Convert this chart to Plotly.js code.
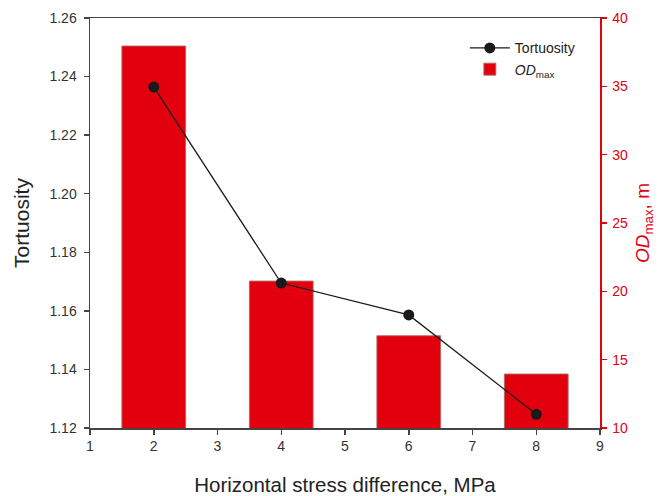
<!DOCTYPE html>
<html>
<head>
<meta charset="utf-8">
<script src="https://cdn.plot.ly/plotly-3.0.1.min.js"></script>
<style>html,body{margin:0;padding:0;background:#fff;}#chart{width:667px;height:496px;}</style>
</head>
<body>
<div id="chart"></div>
<script>
// Data
const stressDiff = [2, 4, 6, 8];
const tortuosity = [1.2364, 1.1695, 1.1586, 1.1247];
const odMax = [37.95, 20.75, 16.75, 13.95];
const leftTicks = [1.12, 1.14, 1.16, 1.18, 1.20, 1.22, 1.24, 1.26];
const rightTicks = [10, 15, 20, 25, 30, 35, 40];
const xTicks = [1, 2, 3, 4, 5, 6, 7, 8, 9];

const red = '#e2000e';
const font = 'Liberation Sans, Arial, sans-serif';

const traces = [
  {
    type: 'bar', x: stressDiff, y: odMax, yaxis: 'y', width: 1.0,
    name: '<i>OD</i><sub>max</sub>', legendrank: 2,
    marker: {color: red, line: {color: 'rgba(170,110,100,0.9)', width: 1}}
  },
  {
    type: 'scatter', mode: 'lines+markers', x: stressDiff, y: tortuosity, yaxis: 'y2',
    name: 'Tortuosity', legendrank: 1,
    line: {color: '#1a1a1a', width: 1.3},
    marker: {color: '#1a1a1a', size: 11}
  }
];

const layout = {
  width: 667, height: 496,
  margin: {l: 90, r: 67, t: 18, b: 68},
  paper_bgcolor: '#fff', plot_bgcolor: '#fff',
  font: {family: font, size: 14, color: '#333'},
  showlegend: true,
  legend: {x: 0.735, y: 0.965, xanchor: 'left', yanchor: 'top', bgcolor: 'rgba(0,0,0,0)',
           font: {family: font, size: 14, color: '#222'}, tracegroupgap: 0, itemwidth: 40},
  bargap: 0,
  xaxis: {
    range: [1, 9], tickvals: xTicks, ticktext: xTicks.map(String),
    showgrid: false, zeroline: false,
    showline: true, linecolor: '#444', linewidth: 1.5, mirror: true,
    ticks: 'outside', ticklen: 5, tickcolor: '#444', tickwidth: 1.5,
    tickfont: {family: font, size: 14, color: '#333'},
    title: {text: 'Horizontal stress difference, MPa', font: {family: font, size: 20.5, color: '#222'}, standoff: 24}
  },
  yaxis: {
    side: 'right', range: [10, 40], tickvals: rightTicks,
    showgrid: false, zeroline: false,
    showline: true, linecolor: red, linewidth: 1.5,
    ticks: 'outside', ticklen: 5, tickcolor: red, tickwidth: 1.5,
    ticklabelstandoff: 3,
    tickfont: {family: font, size: 14, color: red},
    title: {text: '<i>OD</i><sub>max</sub>, m', font: {family: font, size: 19, color: red}, standoff: 8}
  },
  yaxis2: {
    overlaying: 'y', side: 'left', range: [1.12, 1.26], tickvals: leftTicks,
    tickformat: '.2f',
    showgrid: false, zeroline: false,
    showline: true, linecolor: '#444', linewidth: 1.5,
    ticks: 'outside', ticklen: 5, tickcolor: '#444', tickwidth: 1.5,
    ticklabelstandoff: 4,
    tickfont: {family: font, size: 14, color: '#333'},
    title: {text: 'Tortuosity', font: {family: font, size: 21, color: '#222'}, standoff: 14}
  }
};

Plotly.newPlot('chart', traces, layout, {displayModeBar: false, staticPlot: true});
</script>
</body>
</html>
